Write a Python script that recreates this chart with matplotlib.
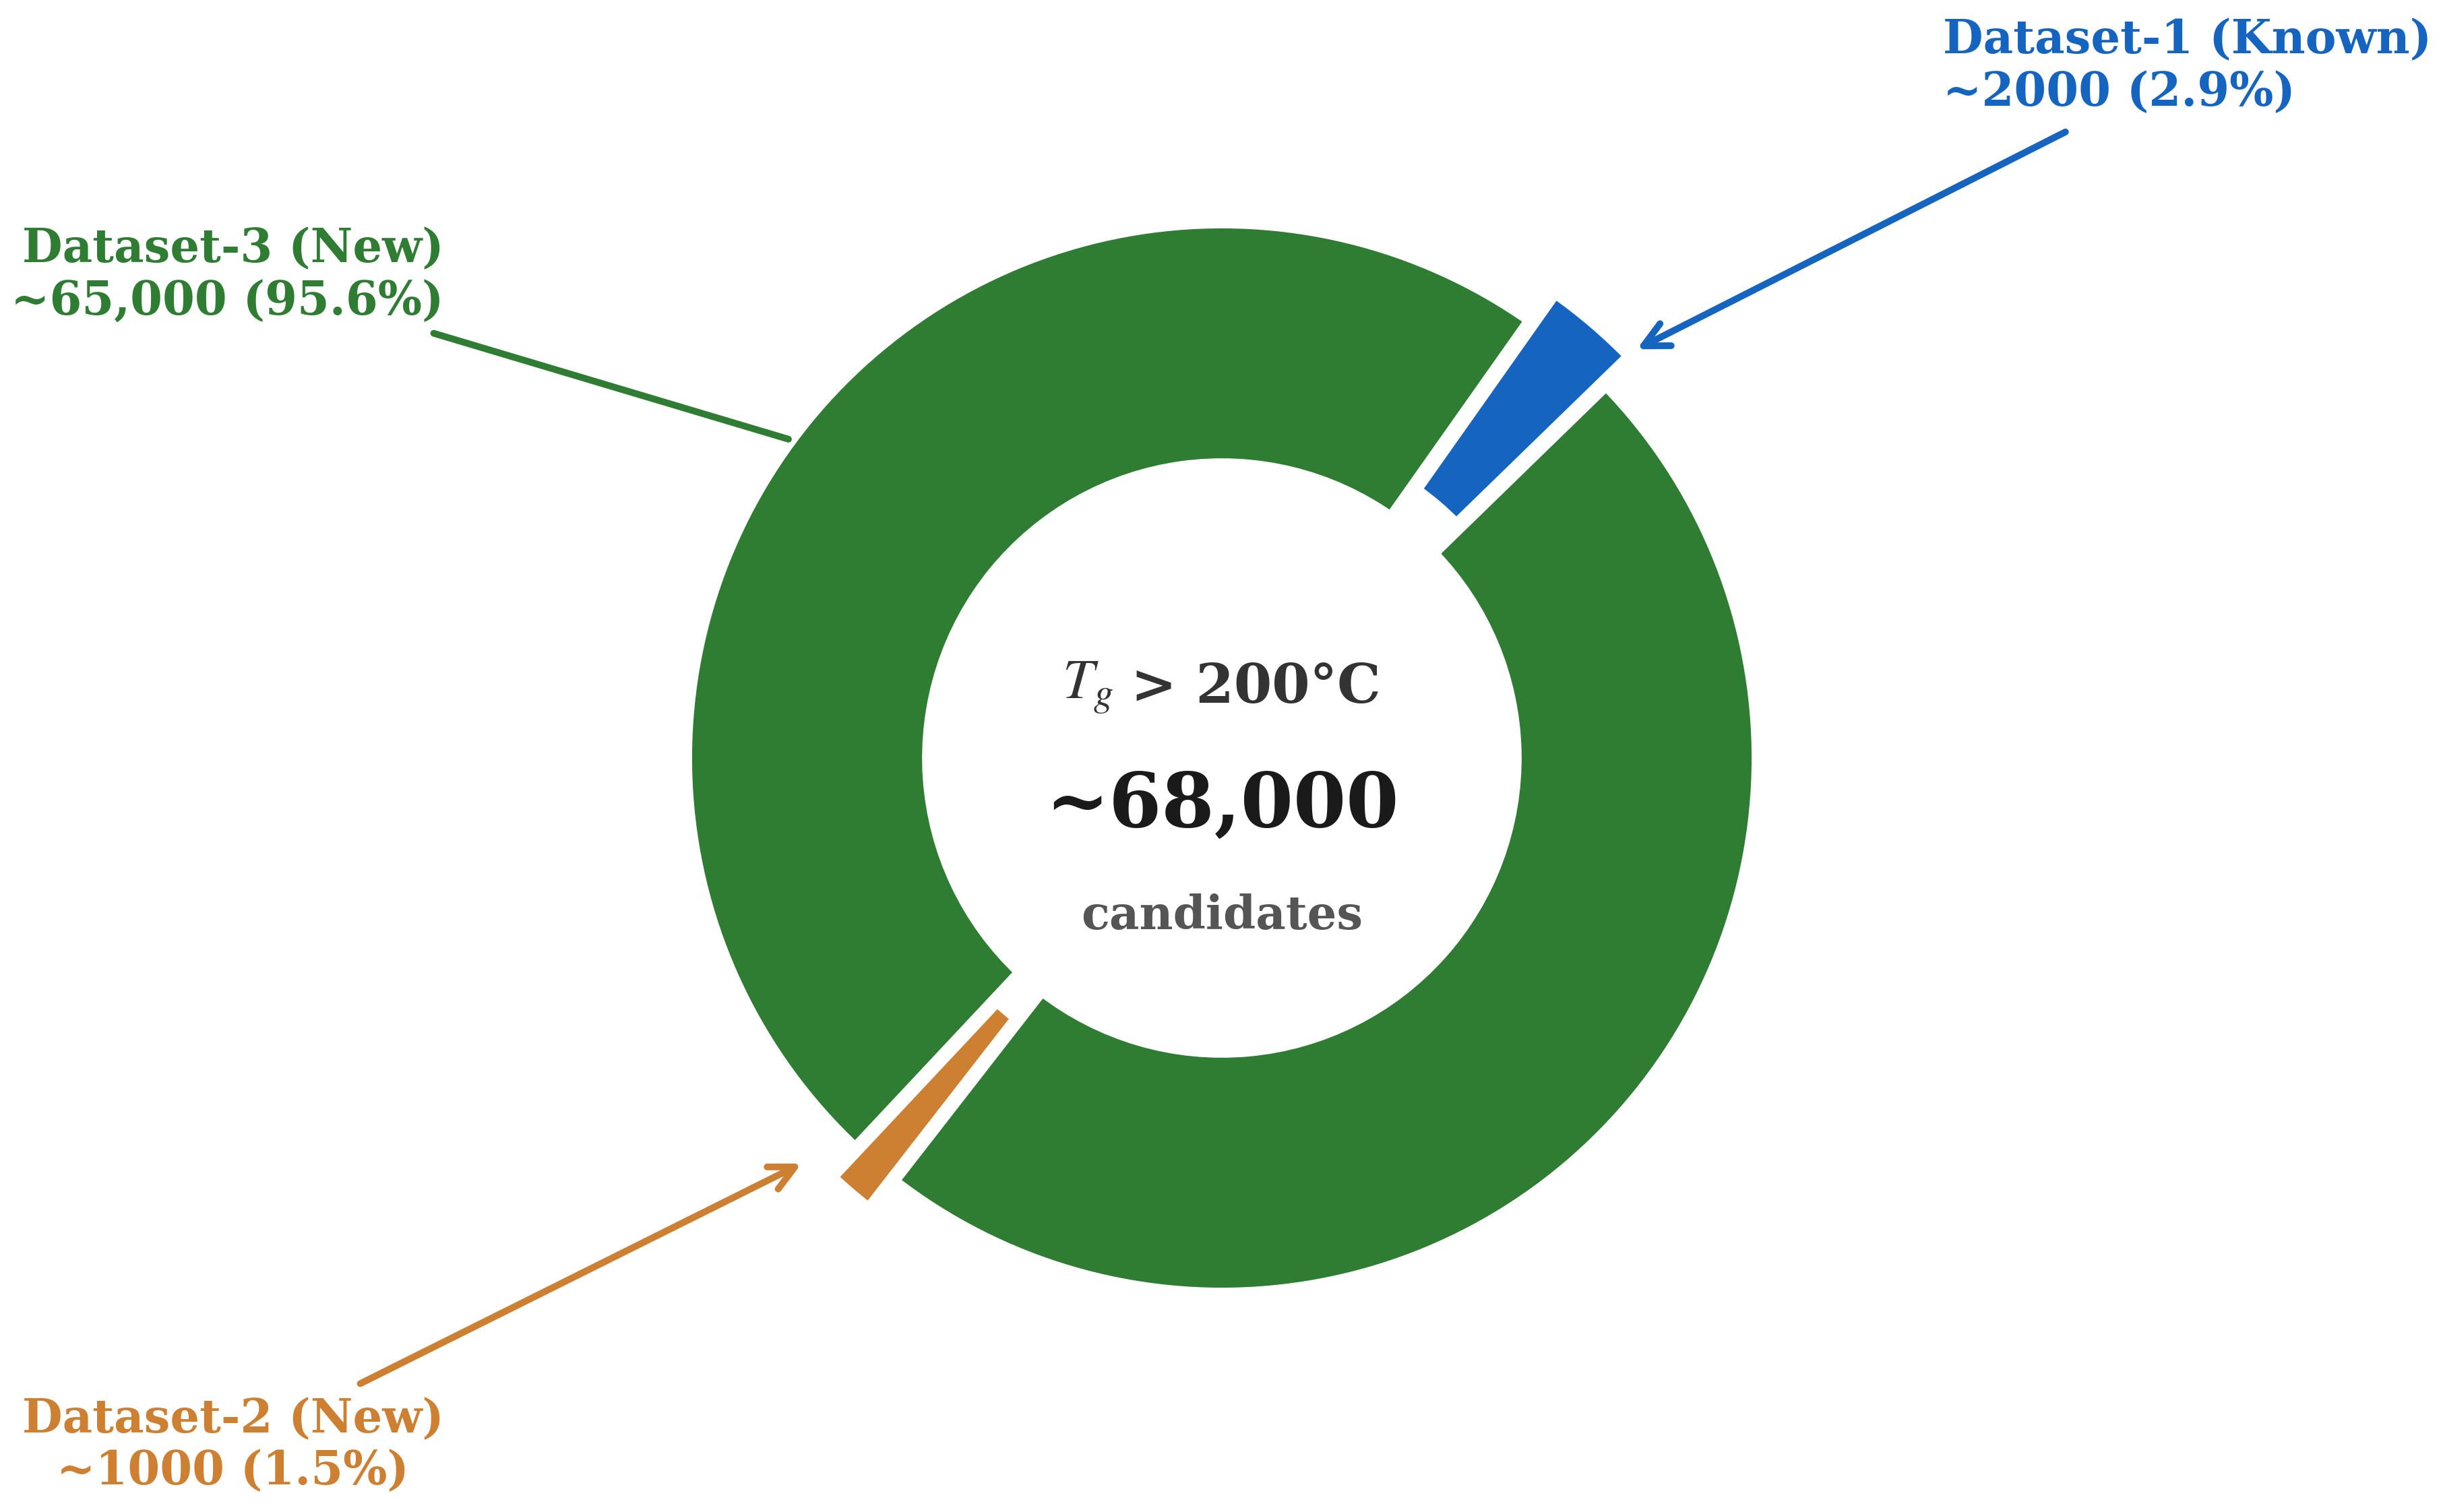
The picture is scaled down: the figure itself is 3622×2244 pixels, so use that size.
import matplotlib
matplotlib.use("Agg")
import matplotlib.pyplot as plt
import numpy as np

# -----------------------------
# Data
# -----------------------------
names = ["Dataset-1 (Known)", "Dataset-2 (New)", "Dataset-3 (New)"]
counts = [2000, 1000, 65000]
count_text = ["~2000", "~1000", "~65,000"]
percents = [2.9, 1.5, 95.6]
colors = ["#1565C0", "#CD7F32", "#2E7D32"]
total_text = "~68,000"

plt.rcParams["font.family"] = "DejaVu Serif"
plt.rcParams["mathtext.fontset"] = "stix"

W, H = 3622, 2244
DPI = 300
fig = plt.figure(figsize=(W / DPI, H / DPI), dpi=DPI)
ax = fig.add_axes([0, 0, 1, 1])

# green ring is split in two halves, with the small sets opposite each other
sizes = [counts[0], counts[2] / 2, counts[1], counts[2] / 2]
wcolors = [colors[0], colors[2], colors[1], colors[2]]
explode = [0.07, 0, 0.07, 0]

blue_center = 49.5
start = blue_center - counts[0] / sum(counts) * 180

ax.pie(sizes, colors=wcolors, explode=explode, startangle=start,
       radius=1.012, counterclock=True,
       wedgeprops=dict(width=0.458, edgecolor="white", linewidth=4.5))

# -----------------------------
# Centre text
# -----------------------------
ax.text(-0.205, 0.132, r"$T_g$", ha="right", va="center",
        fontsize=20, fontweight="normal", color="#333333")
ax.text(-0.172, 0.132, "> 200°C", ha="left", va="center",
        fontsize=19.5, fontweight="bold", color="#333333")
ax.text(0, -0.089, total_text, ha="center", va="center",
        fontsize=27, fontweight="bold", color="#1a1a1a")
ax.text(0, -0.298, "candidates", ha="center", va="center",
        fontsize=16.5, fontweight="bold", color="#555555")

# -----------------------------
# Labels
# -----------------------------
lab = [f"{n}\n{c} ({p}%)" for n, c, p in zip(names, count_text, percents)]

# Dataset-1
ax.text(1.361, 1.306, lab[0], ha="left", va="center", fontsize=16.5,
        fontweight="bold", color=colors[0], linespacing=1.2)
ax.annotate("", xy=(0.774, 0.767), xytext=(1.602, 1.187),
            arrowprops=dict(arrowstyle="->", color=colors[0], lw=2.4,
                            mutation_scale=22))

# Dataset-2
ax.text(-1.469, -1.298, lab[1], ha="right", va="center", fontsize=16.5,
        fontweight="bold", color=colors[1], linespacing=1.2,
        multialignment="center")
ax.annotate("", xy=(-0.784, -0.761), xytext=(-1.636, -1.186),
            arrowprops=dict(arrowstyle="->", color=colors[1], lw=2.4,
                            mutation_scale=22))

# Dataset-3
ax.text(-1.469, 0.912, lab[2], ha="right", va="center", fontsize=16.5,
        fontweight="bold", color=colors[2], linespacing=1.2)
ax.annotate("", xy=(-0.808, 0.599), xytext=(-1.498, 0.805),
            arrowprops=dict(arrowstyle="-", color=colors[2], lw=2.4))

ax.set_xlim(-1813 / 786, (W - 1813) / 786)
ax.set_ylim(-(H - 1125) / 786, 1125 / 786)
ax.set_aspect("auto")
ax.axis("off")

fig.savefig("out.png", dpi=DPI, facecolor="white")
